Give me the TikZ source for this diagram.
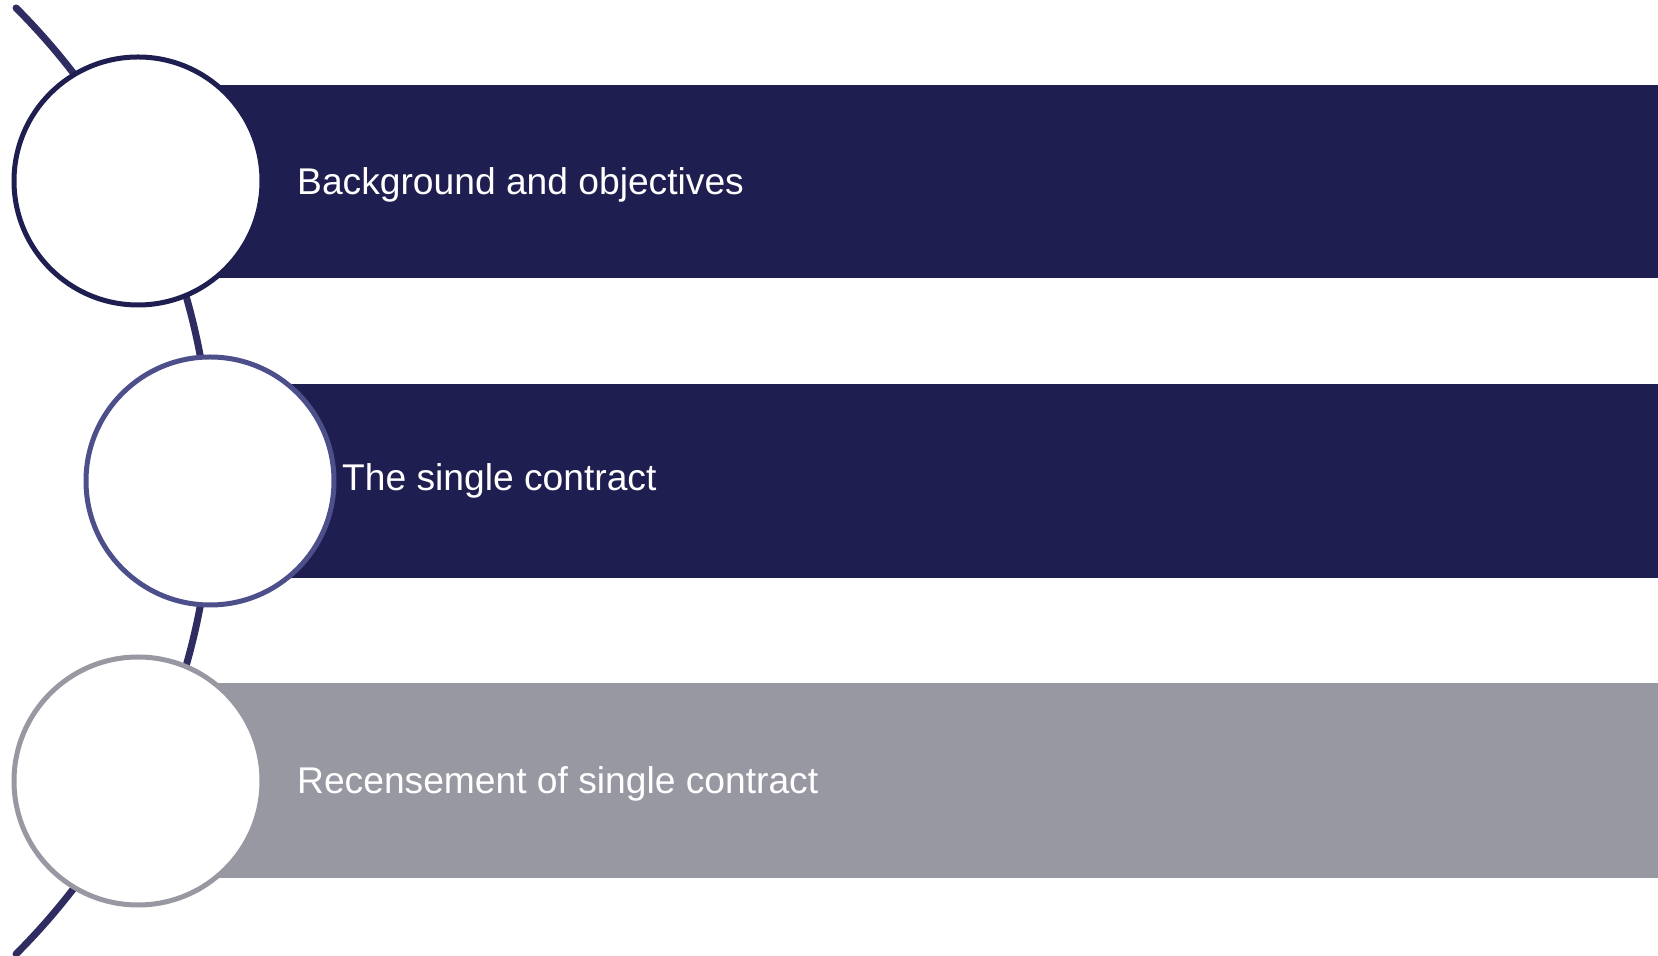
\documentclass[tikz,border=0pt]{standalone}
\usepackage{fontspec}
\setmainfont{Liberation Sans}
\usetikzlibrary{positioning}
\definecolor{navy}{HTML}{1F1E50}
\definecolor{midblue}{HTML}{4C4F8A}
\definecolor{greybar}{HTML}{9898A3}
\definecolor{spinecol}{HTML}{2E2C60}
\tikzset{
  bar/.style={fill=#1, draw=none},
  disc/.style={circle, draw=#1, line width=5pt, fill=white, minimum size=248pt, inner sep=0pt},
  label/.style={text=white, anchor=base west, font=\fontsize{37.2pt}{41pt}\selectfont, inner sep=0pt},
  spine/.style={draw=spinecol, line width=7pt, line cap=round}
}
\begin{document}
\begin{tikzpicture}[x=1pt,y=1pt]
      \useasboundingbox (0,0) rectangle (1658,956);
      \coordinate (c) at (-457,475);
      \draw[spine] ([shift={(45:669)}]c) arc[start angle=45, end angle=-45, radius=669];
      \fill[bar=navy] (138,678) rectangle (1658,871);
      \fill[bar=navy] (210,378) rectangle (1658,572);
      \fill[bar=greybar] (138,78) rectangle (1658,273);
      \node[disc=navy] (1) at (138,775) {};
      \node[disc=midblue] (2) at (210,475) {};
      \node[disc=greybar] (3) at (138,175) {};
      \node[label] (t1) at (297,761) {Background and objectives};
      \node[label] (t2) at (342,465) {The single contract};
      \node[label] (t3) at (297,162) {Recensement of single contract};
    \end{tikzpicture}
\end{document}
